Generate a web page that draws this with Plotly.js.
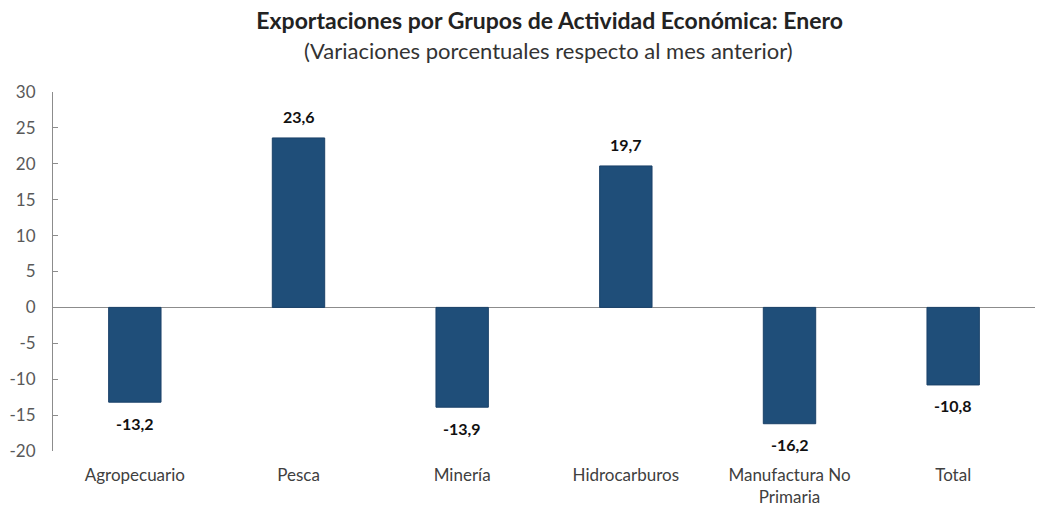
<!DOCTYPE html>
<html>
<head>
<meta charset="utf-8">
<script src="https://cdn.plot.ly/plotly-3.0.1.min.js"></script>
<style>html,body{margin:0;padding:0;background:#fff;}#chart{width:1041px;height:511px;}</style>
</head>
<body>
<div id="chart"></div>
<script>
var categories = ["Agropecuario", "Pesca", "Minería", "Hidrocarburos", "Manufactura No<br>Primaria", "Total"];
var values = [-13.2, 23.6, -13.9, 19.7, -16.2, -10.8];
var valueLabels = ["-13,2", "23,6", "-13,9", "19,7", "-16,2", "-10,8"];
var yTicks = [-20, -15, -10, -5, 0, 5, 10, 15, 20, 25, 30];

var fontFam = "Lato, 'Open Sans', 'Liberation Sans', sans-serif";

var trace = {
  type: "bar",
  x: categories,
  y: values,
  width: 0.32,
  marker: {color: "#1F4E79", line: {color: "#1A4168", width: 1}},
  hoverinfo: "none"
};

var annotations = values.map(function (v, i) {
  return {
    x: categories[i], y: v, xref: "x", yref: "y",
    text: "<b>" + valueLabels[i] + "</b>",
    showarrow: false,
    yshift: v >= 0 ? 21 : -21,
    font: {family: fontFam, size: 16, color: "#111"}
  };
});
annotations.push({
  xref: "paper", yref: "paper", x: 0.505, y: 1 + 42 / 359,
  text: "(Variaciones porcentuales respecto al mes anterior)",
  showarrow: false, yanchor: "middle",
  font: {family: fontFam, size: 22, color: "#333"}
});

var layout = {
  width: 1041, height: 511,
  margin: {l: 53, r: 6, t: 92, b: 60},
  paper_bgcolor: "#fff", plot_bgcolor: "#fff",
  showlegend: false,
  title: {
    text: "<b>Exportaciones por Grupos de Actividad Económica: Enero</b>",
    x: 0.528, xanchor: "center", xref: "container",
    y: 1 - 21 / 511, yanchor: "middle", yref: "container",
    font: {family: fontFam, size: 23, color: "#222"}
  },
  xaxis: {
    type: "category",
    showline: false, showgrid: false, zeroline: false,
    ticks: "",
    ticklabelstandoff: 12,
    tickfont: {family: fontFam, size: 17, color: "#404040"}
  },
  yaxis: {
    range: [-20, 30],
    tickvals: yTicks,
    ticktext: yTicks.map(String),
    showgrid: false,
    showline: true, linecolor: "#8c8c8c", linewidth: 1,
    ticks: "inside", ticklen: 5, tickcolor: "#8c8c8c",
    zeroline: true, zerolinecolor: "#8c8c8c", zerolinewidth: 1,
    tickfont: {family: fontFam, size: 17, color: "#595959"},
    ticklabelstandoff: 13
  },
  annotations: annotations
};

Plotly.newPlot("chart", [trace], layout, {displayModeBar: false, staticPlot: true});
</script>
</body>
</html>
